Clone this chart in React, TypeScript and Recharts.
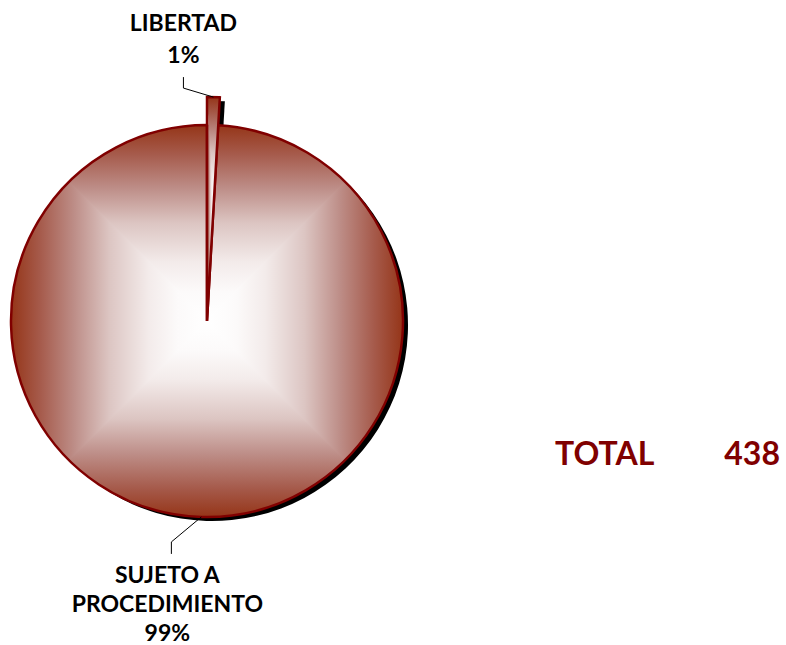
import React from "react";
import { PieChart, Pie, Cell } from "recharts";

const categories = ["LIBERTAD", "SUJETO A PROCEDIMIENTO"];
const counts = [4, 434];
const totalLabel = "TOTAL";

const data = categories.map((name, i) => ({ name, value: counts[i] }));
const total = counts.reduce((a, b) => a + b, 0);

const RUST = "#800000";
const FONT = "Lato, 'Liberation Sans', Arial, sans-serif";
const RAD = Math.PI / 180;

const CX = 207;
const CY = 321;
const R_MAIN = 196;
const R_EXPLODED = 224;

const splitName = (name: string) => {
  const words = name.split(" ");
  if (name.length > 12 && words.length > 1) {
    return [words.slice(0, -1).join(" "), words[words.length - 1]];
  }
  return [name];
};

// draws label + leader for a single slice, the other pie layers pass only their own index
const makeLabel = (onlyIndex: number) => (props: any) => {
  const { cx, cy, midAngle, outerRadius, index, name, percent } = props;
  if (index !== onlyIndex) return null;
  const ex = cx + outerRadius * Math.cos(-midAngle * RAD);
  const ey = cy + outerRadius * Math.sin(-midAngle * RAD);
  const above = ey < cy;
  const bx = ex - 30;
  const by = above ? ey - 9 : ey + 25;
  const vy = above ? by - 11 : by + 12;
  const lines = [...splitName(name), `${Math.round(percent * 100)}%`];
  const tx = above ? bx : bx - 4;
  const step = above ? 32 : 29;
  const firstY = above ? vy - 14 - step * (lines.length - 1) : vy + 29;
  return (
    <g>
      <polyline
        points={`${ex},${ey} ${bx},${by} ${bx},${vy}`}
        fill="none"
        stroke="#000"
        strokeWidth={1}
      />
      {lines.map((l, i) => (
        <text
          key={i}
          x={tx}
          y={firstY + i * step}
          textAnchor="middle"
          fontFamily={FONT}
          fontWeight="bold"
          fontSize={23}
          fill="#000"
        >
          {l}
        </text>
      ))}
    </g>
  );
};

const App = () => {
  return (
    <div style={{ position: "absolute", left: 0, top: 0, width: 786, height: 645 }}>
      <PieChart width={786} height={645} margin={{ top: 0, right: 0, bottom: 0, left: 0 }}>
        <defs>
          <linearGradient id="gTop" x1="0" y1="0" x2="0" y2="1">
            <stop offset="0" stopColor="#953518" />
            <stop offset="0.15" stopColor="#a65b4c" />
            <stop offset="0.32" stopColor="#bd8d87" />
            <stop offset="0.5" stopColor="#dcc5c2" />
            <stop offset="0.7" stopColor="#f3ebea" />
            <stop offset="0.85" stopColor="#fcfafa" />
            <stop offset="1" stopColor="#ffffff" />
          </linearGradient>
          <linearGradient id="gBottom" href="#gTop" x1="0" y1="1" x2="0" y2="0" />
          <linearGradient id="gLeft" href="#gTop" x1="0" y1="0" x2="1" y2="0" />
          <linearGradient id="gRight" href="#gTop" x1="1" y1="0" x2="0" y2="0" />
          <pattern
            id="boxFill"
            patternUnits="objectBoundingBox"
            patternContentUnits="objectBoundingBox"
            width="1"
            height="1"
          >
            <polygon points="0,0 1,0 0.5,0.5" fill="url(#gTop)" stroke="url(#gTop)" strokeWidth={0.006} />
            <polygon points="0,1 1,1 0.5,0.5" fill="url(#gBottom)" stroke="url(#gBottom)" strokeWidth={0.006} />
            <polygon points="0,0 0,1 0.5,0.5" fill="url(#gLeft)" stroke="url(#gLeft)" strokeWidth={0.006} />
            <polygon points="1,0 1,1 0.5,0.5" fill="url(#gRight)" stroke="url(#gRight)" strokeWidth={0.006} />
          </pattern>
        </defs>

        {/* shadow of the exploded slice */}
        <Pie
          data={data}
          dataKey="value"
          cx={CX + 5}
          cy={CY + 4}
          outerRadius={R_EXPLODED}
          startAngle={90}
          endAngle={-270}
          stroke="none"
          isAnimationActive={false}
        >
          {data.map((d, i) => (
            <Cell key={`s1-${i}`} fill={i === 0 ? "#000" : "none"} />
          ))}
        </Pie>
        {/* shadow of the main disc */}
        <Pie
          data={data}
          dataKey="value"
          cx={CX + 5}
          cy={CY + 4}
          outerRadius={R_MAIN}
          startAngle={90}
          endAngle={-270}
          stroke="none"
          isAnimationActive={false}
        >
          {data.map((d, i) => (
            <Cell key={`s2-${i}`} fill="#000" />
          ))}
        </Pie>
        {/* main disc */}
        <Pie
          data={data}
          dataKey="value"
          cx={CX}
          cy={CY}
          outerRadius={R_MAIN}
          startAngle={90}
          endAngle={-270}
          label={makeLabel(1)}
          labelLine={false}
          isAnimationActive={false}
        >
          {data.map((d, i) => (
            <Cell
              key={`m-${i}`}
              fill="url(#boxFill)"
              stroke={i === 0 ? "none" : RUST}
              strokeWidth={2.5}
            />
          ))}
        </Pie>
        {/* exploded small slice */}
        <Pie
          data={data}
          dataKey="value"
          cx={CX}
          cy={CY}
          outerRadius={R_EXPLODED}
          startAngle={90}
          endAngle={-270}
          label={makeLabel(0)}
          labelLine={false}
          isAnimationActive={false}
        >
          {data.map((d, i) => (
            <Cell
              key={`e-${i}`}
              fill={i === 0 ? "url(#boxFill)" : "none"}
              stroke={i === 0 ? RUST : "none"}
              strokeWidth={2.5}
            />
          ))}
        </Pie>
      </PieChart>
      <svg
        width={786}
        height={645}
        style={{ position: "absolute", left: 0, top: 0, pointerEvents: "none" }}
      >
        <text x={555} y={465} fontFamily={FONT} fontWeight="bold" fontSize={32} fill={RUST}>
          {totalLabel}
        </text>
        <text x={780} y={465} textAnchor="end" fontFamily={FONT} fontWeight="bold" fontSize={32} fill={RUST}>
          {total}
        </text>
      </svg>
    </div>
  );
};

export default App;
